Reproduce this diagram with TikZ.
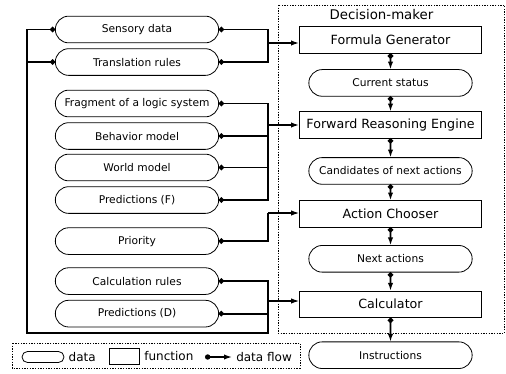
\documentclass[tikz,border=0pt]{standalone}
\usepackage{fontspec}
\setmainfont{DejaVu Sans}
\usetikzlibrary{positioning, shapes.misc, arrows.meta}
\tikzset{
  datum/.style={rounded rectangle, draw=black, line width=0.6pt, align=center, minimum width=124.5pt, minimum height=20pt, inner sep=1pt, outer sep=0pt, font=\fontsize{8}{10}\selectfont},
  func/.style={rectangle, draw=black, line width=0.6pt, align=center, minimum width=137pt, minimum height=20pt, inner sep=1pt, outer sep=0pt, font=\fontsize{9.5}{11}\selectfont},
  wire/.style={line width=1.3pt, {Circle[length=4pt,width=4pt]}-},
  arrow/.style={line width=1.3pt, -{Latex[length=6pt,width=4pt]}},
  thinarrow/.style={line width=0.9pt, -{Latex[length=6pt,width=4pt]}},
  flow/.style={line width=1.3pt, {Circle[length=4pt,width=4pt]}-{Latex[length=6pt,width=4pt]}},
  frame/.style={line width=0.6pt, dash pattern=on 1pt off 1pt},
  legendtext/.style={font=\fontsize{9}{11}\selectfont, inner sep=0pt},
}
\begin{document}
\begin{tikzpicture}[x=0.75pt, y=-0.75pt]
        \useasboundingbox (0,0) rectangle (506,374);

        % Decision-maker
        \draw[frame] (278,5) rectangle (504.5,333);
        \node[font=\fontsize{10}{12}\selectfont] (dmtitle) at (381.5,15) {Decision-maker};

        \node[func] (fgen) at (390.5,40) {Formula Generator};
        \node[datum, below=12.2pt of fgen] (status) {Current status};
        \node[func, below=11.5pt of status] (fre) {Forward Reasoning Engine};
        \node[datum, below=14.5pt of fre] (cand) {Candidates of next actions};
        \node[func, below=12.2pt of cand] (achoose) {Action Chooser};
        \node[datum, below=13.7pt of achoose] (nextact) {Next actions};
        \node[func, below=14.1pt of nextact] (calc) {Calculator};
        \node[datum, below=18.2pt of calc] (instr) {Instructions};

        % Inputs
        \node[datum] (sensory) at (137,29.5) {Sensory data};
        \node[datum, below=4.4pt of sensory] (trans) {Translation rules};
        \node[datum, below=11.1pt of trans] (frag) {Fragment of a logic system};
        \node[datum, below=4.4pt of frag] (behav) {Behavior model};
        \node[datum, below=3.6pt of behav] (world) {World model};
        \node[datum, below=4.4pt of world] (predf) {Predictions (F)};
        \node[datum, below=10.8pt of predf] (prio) {Priority};
        \node[datum, below=10pt of prio] (calcr) {Calculation rules};
        \node[datum, below=4.4pt of calcr] (predd) {Predictions (D)};

        % Junctions
        \coordinate (jgen) at (268,43);
        \coordinate (jfre) at (268,125);
        \coordinate (jact) at (268,213);
        \coordinate (jcalc) at (268,301);
        \coordinate (loop) at (27,333);

        % Connections
        \draw[wire] (sensory.east) -| (jgen);
        \draw[wire] (trans.east) -| (jgen);
        \draw[arrow] (jgen) -- (fgen.west |- jgen);

        \draw[wire] (frag.east) -| (jfre);
        \draw[wire] (behav.east) -| (jfre);
        \draw[wire] (world.east) -| (jfre);
        \draw[wire] (predf.east) -| (jfre);
        \draw[arrow] (jfre) -- (fre.west |- jfre);

        \draw[wire] (prio.east) -| (jact);
        \draw[thinarrow] (jact) -- (achoose.west |- jact);

        \draw[wire] (calcr.east) -| (jcalc);
        \draw[wire] (predd.east) -| (jcalc);
        \draw[wire] (sensory.west) -| (loop) -- (jcalc |- loop) -- (jcalc);
        \draw[wire] (trans.west) -- (trans.west -| loop);
        \draw[thinarrow] (jcalc) -- (calc.west |- jcalc);

        \draw[flow] (fgen) -- (status);
        \draw[flow] (status) -- (fre);
        \draw[flow] (fre) -- (cand);
        \draw[flow] (cand) -- (achoose);
        \draw[flow] (achoose) -- (nextact);
        \draw[flow] (nextact) -- (calc);
        \draw[flow] (calc) -- (instr);

        % Legend
        \draw[frame] (12,343) rectangle (300,368);
        \node[rounded rectangle, draw=black, line width=0.6pt, minimum width=31.5pt, minimum height=8.3pt, inner sep=0pt] (keydata) at (43,357) {};
        \node[legendtext, right=3pt of keydata] (keydatatext) {data};
        \node[rectangle, draw=black, line width=0.6pt, minimum width=22.5pt, minimum height=12pt, inner sep=0pt] (keyfunc) at (124,356) {};
        \node[legendtext, right=3.5pt of keyfunc] (keyfunctext) {function};
        \coordinate (keyfrom) at (205,357);
        \coordinate (keyto) at (232,357);
        \draw[flow, line width=1pt] (keyfrom) -- (keyto);
        \node[legendtext, right=3pt of keyto] (keyflowtext) {data flow};
\end{tikzpicture}
\end{document}
